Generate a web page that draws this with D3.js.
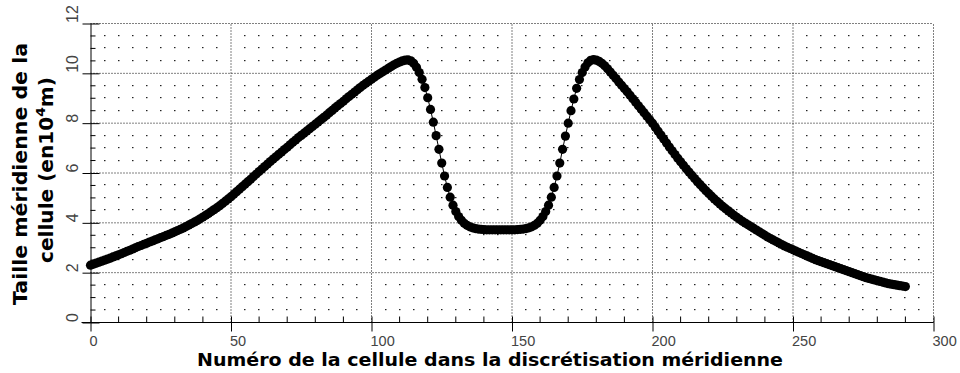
<!DOCTYPE html>
<html>
<head>
<meta charset="utf-8">
<script src="https://cdn.jsdelivr.net/npm/d3@7"></script>
<style>
  body { margin: 0; background: #fff; }
  svg { display: block; }
</style>
</head>
<body>
<svg id="chart" width="960" height="373"></svg>
<script>
// Meridional cell size (in 10^4 m) for each cell index 0..290
const cellValues = [
  2.30, 2.34, 2.38, 2.42, 2.46, 2.50, 2.54, 2.58, 2.63, 2.67,
  2.72, 2.76, 2.81, 2.86, 2.90, 2.95, 3.00, 3.05, 3.09, 3.14,
  3.18, 3.23, 3.27, 3.32, 3.36, 3.41, 3.45, 3.50, 3.54, 3.59,
  3.64, 3.69, 3.74, 3.79, 3.85, 3.91, 3.97, 4.03, 4.09, 4.16,
  4.23, 4.30, 4.37, 4.45, 4.53, 4.61, 4.69, 4.78, 4.87, 4.96,
  5.05, 5.15, 5.25, 5.35, 5.45, 5.55, 5.65, 5.75, 5.86, 5.96,
  6.06, 6.16, 6.26, 6.36, 6.46, 6.56, 6.65, 6.75, 6.84, 6.94,
  7.03, 7.13, 7.23, 7.32, 7.42, 7.51, 7.60, 7.69, 7.78, 7.87,
  7.96, 8.05, 8.14, 8.23, 8.32, 8.42, 8.51, 8.61, 8.70, 8.79,
  8.88, 8.98, 9.07, 9.16, 9.25, 9.34, 9.43, 9.52, 9.60, 9.68,
  9.76, 9.84, 9.92, 9.99, 10.06, 10.13, 10.20, 10.27, 10.34, 10.40,
  10.45, 10.50, 10.53, 10.54, 10.50, 10.40, 10.24, 10.03, 9.76, 9.43,
  9.02, 8.55, 8.04, 7.50, 6.95, 6.40, 5.88, 5.42, 5.03, 4.71,
  4.45, 4.25, 4.10, 3.98, 3.90, 3.84, 3.80, 3.77, 3.75, 3.74,
  3.73, 3.72, 3.72, 3.72, 3.72, 3.72, 3.72, 3.72, 3.72, 3.72,
  3.72, 3.72, 3.73, 3.74, 3.75, 3.77, 3.80, 3.84, 3.90, 3.98,
  4.10, 4.25, 4.45, 4.71, 5.03, 5.42, 5.88, 6.40, 6.95, 7.48,
  8.00, 8.50, 8.97, 9.40, 9.75, 10.03, 10.25, 10.42, 10.52, 10.55,
  10.53, 10.48, 10.40, 10.30, 10.18, 10.05, 9.92, 9.79, 9.65, 9.52,
  9.39, 9.26, 9.12, 8.98, 8.84, 8.70, 8.56, 8.42, 8.28, 8.14,
  8.00, 7.84, 7.68, 7.52, 7.36, 7.20, 7.04, 6.89, 6.74, 6.59,
  6.45, 6.31, 6.17, 6.04, 5.91, 5.78, 5.65, 5.53, 5.41, 5.29,
  5.18, 5.07, 4.96, 4.86, 4.76, 4.66, 4.57, 4.48, 4.39, 4.30,
  4.22, 4.14, 4.06, 3.99, 3.92, 3.85, 3.78, 3.71, 3.64, 3.57,
  3.50, 3.43, 3.37, 3.31, 3.25, 3.19, 3.13, 3.07, 3.02, 2.97,
  2.92, 2.87, 2.82, 2.77, 2.72, 2.67, 2.62, 2.57, 2.52, 2.48,
  2.44, 2.40, 2.36, 2.32, 2.28, 2.24, 2.20, 2.16, 2.12, 2.08,
  2.04, 2.00, 1.96, 1.92, 1.88, 1.84, 1.80, 1.77, 1.74, 1.71,
  1.68, 1.65, 1.62, 1.59, 1.56, 1.54, 1.52, 1.50, 1.48, 1.46,
  1.44
];
const cellNumbers = d3.range(cellValues.length);

const xTicks = [0, 50, 100, 150, 200, 250, 300];
const yTicks = [0, 2, 4, 6, 8, 10, 12];
const xMinorTicks = d3.range(0, 301, 10);
const yMinorTicks = d3.range(0, 12.01, 0.5);

const xTitle = "Numéro de la cellule dans la discrétisation méridienne";
const yTitleLine1 = "Taille méridienne de la";
const yTitleLine2 = ["cellule (en10", "4", "m)"];

const svg = d3.select("#chart");
const x = d3.scaleLinear().domain([0, 300]).range([90.5, 933.5]);
const y = d3.scaleLinear().domain([0, 12]).range([322.5, 23.5]);

const tickFont = "'Liberation Sans Narrow', 'Liberation Sans', Arial, sans-serif";
const titleFont = "'DejaVu Sans', Verdana, sans-serif";

// Dot grid at every 5 cells and every 0.5 unit
const grid = svg.append("g");
const dotXs = d3.range(5, 300, 5).filter(v => v % 50 !== 0);
const dotYs = d3.range(0.5, 12, 0.5).filter(v => v % 2 !== 0);
const dots = [];
dotXs.forEach(gx => dotYs.forEach(gy => dots.push([gx, gy])));
grid.selectAll("rect.dot").data(dots).join("rect")
  .attr("class", "dot")
  .attr("x", d => Math.round(x(d[0])) - 1)
  .attr("y", d => Math.round(y(d[1])) - 1)
  .attr("width", 1.5).attr("height", 1.2)
  .attr("fill", "#222");

// Dotted major grid lines
grid.selectAll("line.hg").data(yTicks.filter(d => d > 0)).join("line")
  .attr("class", "hg")
  .attr("x1", x(0)).attr("x2", x(300))
  .attr("y1", d => y(d)).attr("y2", d => y(d))
  .attr("stroke", "#000").attr("stroke-width", 1)
  .attr("stroke-dasharray", "1,2");
grid.selectAll("line.vg").data(xTicks.filter(d => d > 0)).join("line")
  .attr("class", "vg")
  .attr("x1", d => x(d)).attr("x2", d => x(d))
  .attr("y1", y(0)).attr("y2", y(12))
  .attr("stroke", "#000").attr("stroke-width", 1)
  .attr("stroke-dasharray", "1,2");

// Axes
const gx = svg.append("g")
  .attr("transform", `translate(0,${y(0)})`)
  .call(d3.axisBottom(x).tickValues(xTicks).tickSize(9).tickSizeOuter(0).tickPadding(5));
gx.select(".domain").attr("d", `M${x(0) - 9},0H${x(300)}`);
gx.selectAll(".tick text")
  .attr("text-anchor", "start")
  .attr("x", -1.5)
  .attr("y", 13)
  .attr("font-family", tickFont)
  .attr("font-size", 14.5)
  .attr("fill", "#444");
gx.selectAll(".tick").append("line").attr("y2", -6).attr("stroke", "#000");
gx.selectAll("line.minor").data(xMinorTicks.filter(d => d % 50 !== 0)).join("line")
  .attr("class", "minor")
  .attr("x1", d => x(d)).attr("x2", d => x(d))
  .attr("y1", 0).attr("y2", -6)
  .attr("stroke", "#000");

const gy = svg.append("g")
  .attr("transform", `translate(${x(0)},0)`)
  .call(d3.axisLeft(y).tickValues(yTicks).tickSize(8).tickSizeOuter(0));
gy.selectAll(".tick text")
  .attr("transform", "rotate(-90)")
  .attr("text-anchor", "start")
  .attr("x", 1)
  .attr("y", -13)
  .attr("dy", 0)
  .attr("font-family", tickFont)
  .attr("font-size", 16)
  .attr("fill", "#444");
gy.selectAll(".tick").append("line").attr("x2", 9).attr("stroke", "#000");
gy.selectAll("line.minor").data(yMinorTicks.filter(d => d % 2 !== 0)).join("line")
  .attr("class", "minor")
  .attr("x1", 0).attr("x2", 5)
  .attr("y1", d => y(d)).attr("y2", d => y(d))
  .attr("stroke", "#000");

// Series: thin connecting line plus round markers
const line = d3.line().x((d, i) => x(cellNumbers[i])).y(d => y(d));
svg.append("path")
  .datum(cellValues)
  .attr("d", line)
  .attr("fill", "none")
  .attr("stroke", "#000")
  .attr("stroke-width", 1);
svg.append("g").selectAll("circle").data(cellValues).join("circle")
  .attr("cx", (d, i) => x(cellNumbers[i]))
  .attr("cy", d => y(d))
  .attr("r", 4.6)
  .attr("fill", "#000");

// Axis titles
svg.append("text")
  .attr("x", 490).attr("y", 366)
  .attr("text-anchor", "middle")
  .attr("font-family", titleFont)
  .attr("font-weight", "bold")
  .attr("font-size", 18.5)
  .attr("textLength", 586)
  .attr("lengthAdjust", "spacingAndGlyphs")
  .attr("fill", "#000")
  .text(xTitle);

const yt = svg.append("g").attr("transform", "translate(0,174) rotate(-90)");
yt.append("text")
  .attr("x", 0).attr("y", 27)
  .attr("text-anchor", "middle")
  .attr("font-family", titleFont)
  .attr("font-weight", "bold")
  .attr("font-size", 19)
  .attr("textLength", 262)
  .attr("lengthAdjust", "spacingAndGlyphs")
  .attr("fill", "#000")
  .text(yTitleLine1);
const t2 = yt.append("text")
  .attr("x", 0).attr("y", 53)
  .attr("text-anchor", "middle")
  .attr("font-family", titleFont)
  .attr("font-weight", "bold")
  .attr("font-size", 19)
  .attr("fill", "#000");
t2.append("tspan").text(yTitleLine2[0]);
t2.append("tspan").attr("dy", -8).attr("font-size", 13).text(yTitleLine2[1]);
t2.append("tspan").attr("dy", 8).text(yTitleLine2[2]);
// Narrow the second title line to the same letter width as the first
const t2Len = t2.node().getComputedTextLength();
t2.attr("transform", `translate(4,0) scale(${186 / t2Len},1)`);
</script>
</body>
</html>
